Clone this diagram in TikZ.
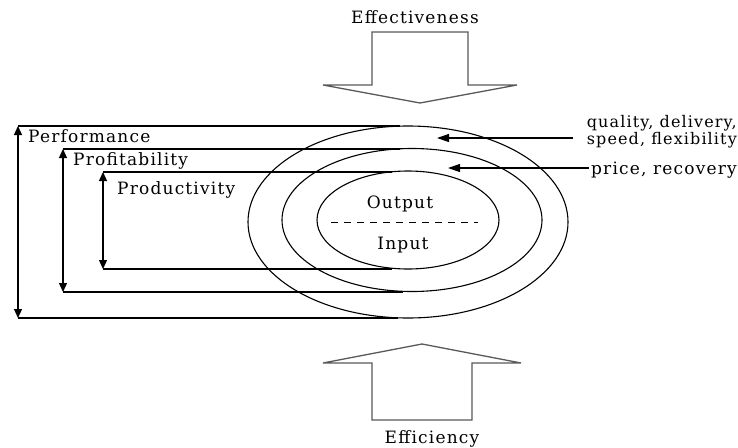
\documentclass[tikz,border=0pt]{standalone}
\usepackage{fontspec}
\setmainfont{DejaVu Serif}[LetterSpace=7]
\usepackage{tikz}
\usetikzlibrary{positioning, arrows.meta, shapes.geometric}

\begin{document}
\begin{tikzpicture}[x=1pt, y=-1pt,
  ring/.style={ellipse, draw, line width=1.1pt, inner sep=0pt},
  span/.style={{Triangle[length=9pt,width=8pt]}-{Triangle[length=9pt,width=8pt]},
    line width=1.3pt},
  rail/.style={line width=1.1pt},
  feed/.style={-{Triangle[length=12pt,width=8pt]}, line width=1.1pt},
  lbl/.style={font=\fontsize{17}{14}\selectfont, inner sep=0pt},
  bigarrow/.style={draw=black!65, line width=1.3pt, fill=white},
]
\useasboundingbox (0,0) rectangle (738,447);

% Rings
\node[ring, minimum width=320pt, minimum height=192pt] (outer) at (408,222) {};
\node[ring, minimum width=260pt, minimum height=143pt] (middle) at (412,220) {};
\node[ring, minimum width=182pt, minimum height=98pt] (inner) at (408,220) {};

% Output / Input
\node[lbl, anchor=base] (out) at (400,208) {Output};
\node[lbl, anchor=base] (in) at (403,249) {Input};
\coordinate (dashL) at (331,222);
\coordinate (dashR) at (478,222);
\draw[line width=0.9pt, dash pattern=on 7pt off 6pt] (dashL) -- (dashR);

% Performance
\coordinate (perfT) at (18,126);
\coordinate (perfB) at (18,318);
\coordinate (perfTe) at (400,126);
\coordinate (perfBe) at (398,318);
\draw[rail] (perfT) -- (perfTe);
\draw[rail] (perfB) -- (perfBe);
\draw[span] (perfT) -- (perfB);
\node[lbl, anchor=base west] (perf) at (28,142) {Performance};

% Profitability
\coordinate (profT) at (63,149);
\coordinate (profB) at (63,292);
\coordinate (profTe) at (400,149);
\coordinate (profBe) at (403,292);
\draw[rail] (profT) -- (profTe);
\draw[rail] (profB) -- (profBe);
\draw[span] (profT) -- (profB);
\node[lbl, anchor=base west] (prof) at (73,165) {Profitability};

% Productivity
\coordinate (prodT) at (103,172);
\coordinate (prodB) at (103,269);
\coordinate (prodTe) at (392,172);
\coordinate (prodBe) at (392,269);
\draw[rail] (prodT) -- (prodTe);
\draw[rail] (prodB) -- (prodBe);
\draw[span] (prodT) -- (prodB);
\node[lbl, anchor=base west] (prod) at (117,194) {Productivity};

% Outside factors
\node[lbl, font=\fontsize{16}{14}\selectfont, align=left, anchor=north east]
  (qual) at (737,115) {quality, delivery,\\speed, flexibility};
\node[lbl, anchor=base east] (price) at (737,174) {price, recovery};
\coordinate (qualTip) at (437,138);
\coordinate (priceTip) at (448,168);
\draw[feed] ([xshift=-14pt]qual.west |- qualTip) -- (qualTip);
\draw[feed] ([xshift=-2pt]price.west |- priceTip) -- (priceTip);

% Effectiveness
\draw[bigarrow] (372,32) -- (468,32) -- (468,85) -- (517,85) -- (420,103)
  -- (323,85) -- (372,85) -- cycle;
\node[lbl, anchor=base] (eff) at (415,23) {Effectiveness};

% Efficiency
\draw[bigarrow] (422,344) -- (521,363) -- (472,363) -- (472,420) -- (372,420)
  -- (372,363) -- (323,363) -- cycle;
\node[lbl, anchor=base] (effc) at (432,443) {Efficiency};

\end{tikzpicture}
\end{document}
